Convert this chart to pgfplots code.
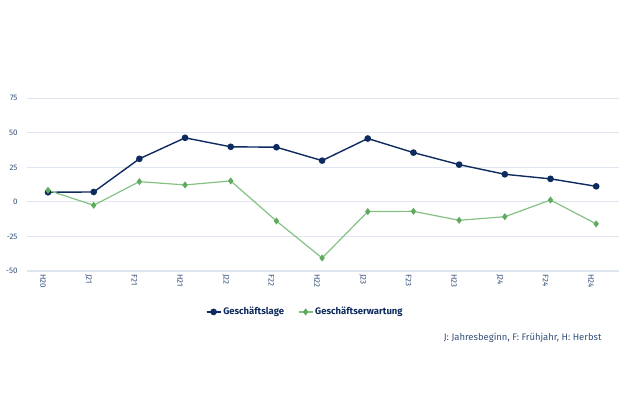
\documentclass[border=0pt]{standalone}
\usepackage{pgfplots}
\pgfplotsset{compat=1.18}
\usepackage{fontspec}
\setmainfont{Fira Sans}
\definecolor{navy}{HTML}{0D2B5E}
\definecolor{lgreen}{HTML}{85C185}
\definecolor{mgreen}{HTML}{5FAA5F}
\definecolor{gridc}{HTML}{E0E6EF}
\definecolor{slate}{HTML}{34507A}
\begin{document}
\begin{tikzpicture}[x=1bp,y=1bp]
\path[use as bounding box] (0,0) rectangle (620,413);
\begin{axis}[
  at={(27bp,142bp)}, anchor=south west,
  scale only axis, width=592bp, height=172.7bp,
  xmin=-0.46, xmax=12.5, ymin=-50, ymax=75,
  ytick={-50,-25,0,25,50,75},
  xtick={0,...,12},
  xticklabels={H20,J21,F21,H21,J22,F22,H22,J23,F23,H23,J24,F24,H24},
  xticklabel style={rotate=-90, anchor=west, font=\fontsize{8}{9}\selectfont, text=slate, yshift=-5bp},
  yticklabel style={font=\fontsize{8}{9}\selectfont, text=slate, xshift=-6bp},
  /pgf/number format/assume math mode=true,
  axis line style={draw=none},
  major tick length=0,
  ymajorgrids, grid style={color=gridc, line width=1.1bp},
  clip=false,
  legend style={draw=none, fill=none, at={(0.47,-0.237)}, anchor=center, legend columns=2,
    font=\bfseries\fontsize{9.5}{11}\selectfont, text=navy,
    /tikz/every even column/.append style={column sep=12bp}},
  legend image code/.code={\draw[#1] (0bp,0bp) -- (14bp,0bp); \draw[#1,mark repeat=2,mark phase=2] plot coordinates {(0bp,0bp) (7bp,0bp) (14bp,0bp)};},
]
\addplot[navy, line width=1.4bp, mark=*, mark size=2.6bp, mark options={fill=navy, draw=navy}]
  coordinates {(0,7) (1,7.2) (2,31.2) (3,46.4) (4,39.9) (5,39.6) (6,29.9) (7,45.9) (8,35.7) (9,27) (10,20) (11,16.7) (12,11.3)};
\addlegendentry{Geschäftslage}
\addplot[lgreen, line width=1.2bp, mark=diamond*, mark size=2.6bp, mark options={fill=mgreen, draw=mgreen}]
  coordinates {(0,8.4) (1,-2.4) (2,14.7) (3,12.3) (4,15.2) (5,-13.8) (6,-40.6) (7,-7) (8,-6.8) (9,-13.3) (10,-10.7) (11,1.4) (12,-15.9)};
\addlegendentry{Geschäftserwartung}
\end{axis}
\node[anchor=east, font=\fontsize{9.5}{11}\selectfont, text=slate] at (605,75) {J: Jahresbeginn, F: Frühjahr, H: Herbst};
\end{tikzpicture}
\end{document}
